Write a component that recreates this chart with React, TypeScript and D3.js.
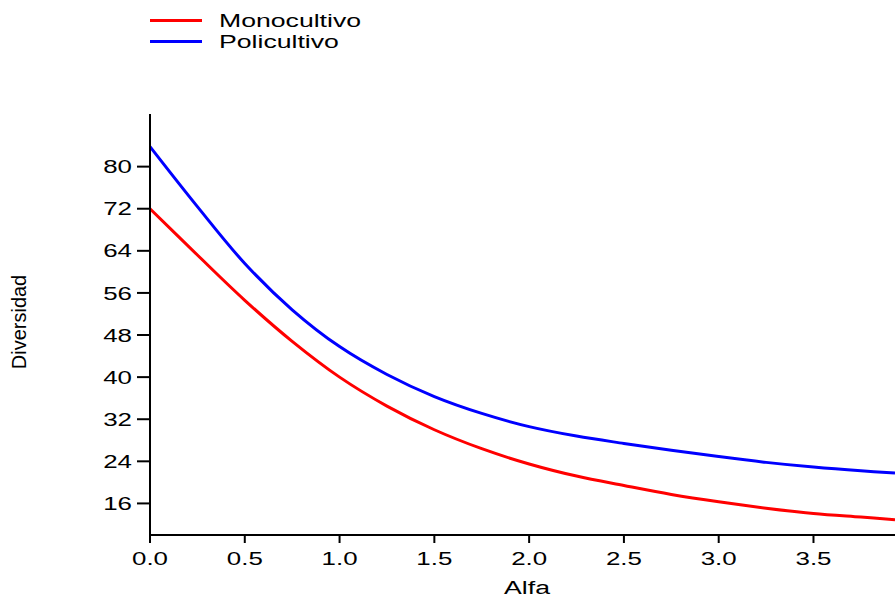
import React from 'react'
import * as d3 from 'd3'

// alfa values (x) and the two series
const alfa = [0, 0.25, 0.5, 0.75, 1.0, 1.25, 1.5, 1.75, 2.0, 2.25, 2.5, 2.75, 3.0, 3.25, 3.5, 3.75, 3.93]
const monocultivo = [72, 63.2, 54.6, 46.8, 40.0, 34.5, 30.0, 26.4, 23.5, 21.2, 19.4, 17.7, 16.3, 15.1, 14.1, 13.4, 12.9]
const policultivo = [83.8, 72.4, 61.6, 52.8, 45.8, 40.5, 36.3, 33.1, 30.6, 28.8, 27.4, 26.1, 24.9, 23.8, 22.9, 22.2, 21.8]

const xTicks = [0, 0.5, 1.0, 1.5, 2.0, 2.5, 3.0, 3.5]
const yTicks = [16, 24, 32, 40, 48, 56, 64, 72, 80]

const series = [
    { name: 'Monocultivo', color: '#ff0000', values: monocultivo },
    { name: 'Policultivo', color: '#0000ff', values: policultivo },
]

const W = 895
const H = 596
const font = '"Liberation Sans", Arial, sans-serif'
const stretch = 1.48 // labels in the reference are drawn wide

export default function App() {
    const x = d3.scaleLinear().domain([0, 3.93]).range([150, 895])
    const y = d3.scaleLinear().domain([10, 90]).range([535, 114])

    const line = d3.line<number>()
        .x((d, i) => x(alfa[i]))
        .y(d => y(d))
        .curve(d3.curveCatmullRom.alpha(0.5))

    const fmt = d3.format('.1f')

    return (
        <svg width={W} height={H} style={{ position: 'absolute', left: 0, top: 0, background: '#fff' }}
            fontFamily={font}>
            {/* legend */}
            {series.map((s, i) => (
                <g key={s.name} transform={`translate(0, ${20.5 + i * 21})`}>
                    <line x1={150} x2={202} y1={0} y2={0} stroke={s.color} strokeWidth={3} />
                    <text transform={`translate(219, 6.5) scale(${stretch}, 1)`} fontSize={18} fill="#000">{s.name}</text>
                </g>
            ))}

            {/* series */}
            {series.map(s => (
                <path key={s.name} d={line(s.values) || ''} fill="none" stroke={s.color} strokeWidth={3} />
            ))}

            {/* y axis */}
            <line x1={150} x2={150} y1={y(90)} y2={y(10) + 1} stroke="#000" strokeWidth={2} />
            {yTicks.map(t => (
                <g key={t} transform={`translate(0, ${y(t)})`}>
                    <line x1={137} x2={150} y1={0} y2={0} stroke="#000" strokeWidth={2} />
                    <text transform={`translate(132, 6.6) scale(${stretch}, 1)`} textAnchor="end" fontSize={17.5}>{t}</text>
                </g>
            ))}

            {/* x axis */}
            <line x1={149} x2={895} y1={535} y2={535} stroke="#000" strokeWidth={2} />
            {xTicks.map(t => (
                <g key={t} transform={`translate(${x(t)}, 0)`}>
                    <line x1={0} x2={0} y1={535} y2={543} stroke="#000" strokeWidth={2} />
                    <text transform={`translate(0, 565.3) scale(${stretch}, 1)`} textAnchor="middle" fontSize={17.5}>{fmt(t)}</text>
                </g>
            ))}

            {/* axis titles */}
            <text transform={`translate(527, 594) scale(${stretch}, 1)`} textAnchor="middle" fontSize={18}>Alfa</text>
            <text transform="translate(26, 322) rotate(-90)" textAnchor="middle" fontSize={20}>Diversidad</text>
        </svg>
    )
}
